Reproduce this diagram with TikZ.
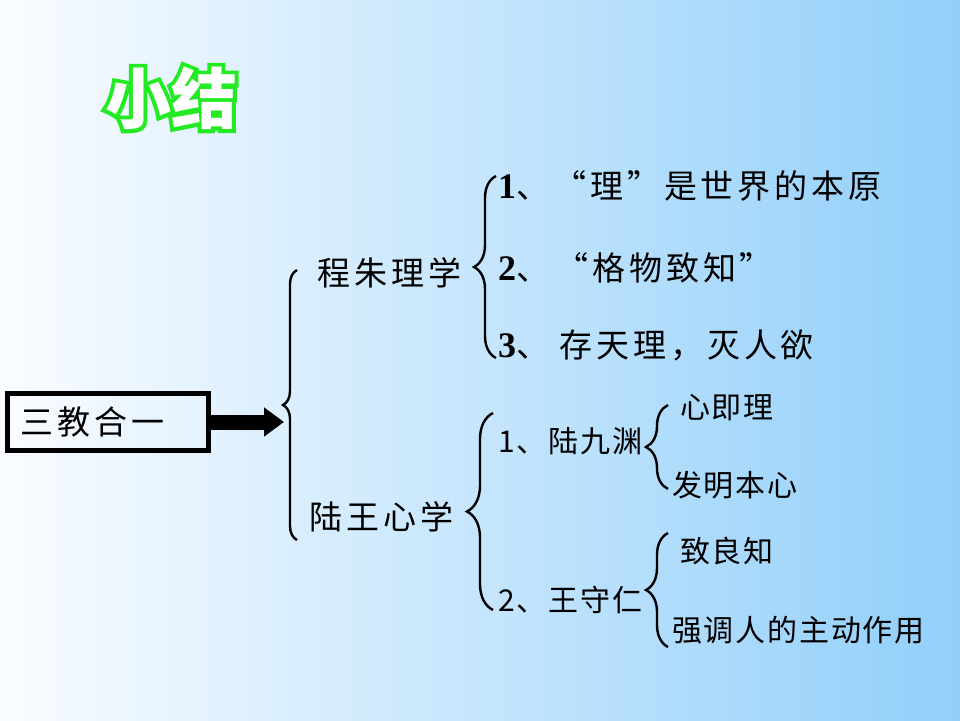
\documentclass[tikz,border=0pt]{standalone}
\usepackage{fontspec}
\setmainfont{Liberation Serif}
\newfontfamily\cjk{Noto Sans CJK SC}
\newfontfamily\cjkwide[LetterSpace=12]{Noto Sans CJK SC}
\newfontfamily\cjkmid[LetterSpace=6]{Noto Sans CJK SC}
\newfontfamily\cjkhalo[BoldFeatures={FakeBold=12}]{Noto Sans CJK SC}
\newcommand\itemno[1]{{\rmfamily\bfseries\fontsize{36}{38}\selectfont #1}}
\usetikzlibrary{arrows.meta}
\usetikzlibrary{decorations.pathreplacing}
\definecolor{skyL}{RGB}{250,252,255}
\definecolor{skyR}{RGB}{145,207,250}
\definecolor{halo}{RGB}{35,235,35}

\begin{document}
\begin{tikzpicture}[x=1pt,y=-1pt,
  big/.style={font=\cjkwide\fontsize{33}{38}\selectfont, inner sep=0pt, anchor=west},
  small/.style={font=\cjkmid\fontsize{30}{36}\selectfont, inner sep=0pt, anchor=west},
  curly/.style={decorate, decoration={brace, amplitude=#1}, line width=2.4pt},
  headline/.style={font=\cjk\bfseries\fontsize{66}{72}\selectfont, inner sep=0pt}]
\useasboundingbox (0,0) rectangle (960,720);
\shade[left color=skyL, right color=skyR] (0,0) rectangle (960,720);
% title
\node[headline, font=\cjkhalo\bfseries\fontsize{66}{72}\selectfont, text=halo] (xiaojiehalo) at (171,98) {小结};
\node[headline, text=white] (xiaojie) at (171,98) {小结};
% left box and arrow
\node[big, anchor=center, draw, line width=5pt, minimum width=201pt, minimum height=57pt, text width=175pt, align=left] (sanjiao) at (108,422) {三教合一};
\coordinate (tipA) at (284,422); 
\draw[line width=15pt, -{Triangle[length=20pt,width=28pt]}] (sanjiao.east) -- (tipA);
% first level
\coordinate (braceAtop) at (297,270); 
\coordinate (braceAbot) at (297,540); 
\draw[curly=14] (braceAbot) -- (braceAtop);
\node[big] (chengzhu) at (317,273) {程朱理学};
\node[big] (luwang) at (309,517) {陆王心学};
% 程朱理学
\coordinate (braceBtop) at (496,176); 
\coordinate (braceBbot) at (496,358); 
\draw[curly=22] (braceBbot) -- (braceBtop);
\node[big] (li) at (498,186) {\itemno{1}、“理”是世界的本原};
\node[big] (gewu) at (498,268) {\itemno{2}、\hspace{6pt}“格物致知”};
\node[big] (cuntian) at (498,345) {\itemno{3}、\hspace{10pt}存天理，灭人欲};
% 陆王心学
\coordinate (braceCtop) at (493,413); 
\coordinate (braceCbot) at (493,610); 
\draw[curly=26] (braceCbot) -- (braceCtop);
\node[small] (lujiuyuan) at (498,441) {1、陆九渊};
\node[small] (wangshouren) at (498,600) {2、王守仁};
\coordinate (braceDtop) at (668,405); 
\coordinate (braceDbot) at (668,489); 
\draw[curly=22] (braceDbot) -- (braceDtop);
\node[small] (xinjili) at (680,408) {心即理};
\node[small] (faming) at (672,485) {发明本心};
\coordinate (braceEtop) at (668,533); 
\coordinate (braceEbot) at (668,647); 
\draw[curly=22] (braceEbot) -- (braceEtop);
\node[small] (liangzhi) at (680,551) {致良知};
\node[small] (qiangdiao) at (672,630) {强调人的主动作用};
\end{tikzpicture}
\end{document}
